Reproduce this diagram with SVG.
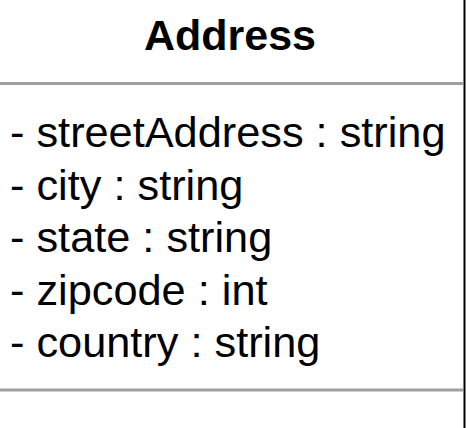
<svg xmlns="http://www.w3.org/2000/svg" width="466" height="428" viewBox="0 0 466 428">
<style>
.t{font-family:"Liberation Sans",Arial,sans-serif;fill:#000}
.title{font-size:43px;font-weight:bold}
.attr{font-size:43.3px}
.sep{stroke:#a0a0a0;stroke-width:3}
</style>
<rect width="466" height="428" fill="#fff"/>
<g id="address-class">
<line x1="464.5" y1="0" x2="464.5" y2="428" stroke="#000" stroke-width="2"/>
<text class="t title" x="230" y="50" text-anchor="middle">Address</text>
<line class="sep" x1="0" y1="83.5" x2="463" y2="83.5"/>
<text class="t attr" x="10" y="147">- streetAddress : string</text>
<text class="t attr" x="10" y="199.5">- city : string</text>
<text class="t attr" x="10" y="252">- state : string</text>
<text class="t attr" x="10" y="304.5">- zipcode : int</text>
<text class="t attr" x="10" y="357">- country : string</text>
<line class="sep" x1="0" y1="390" x2="463" y2="390"/>
</g>
</svg>
